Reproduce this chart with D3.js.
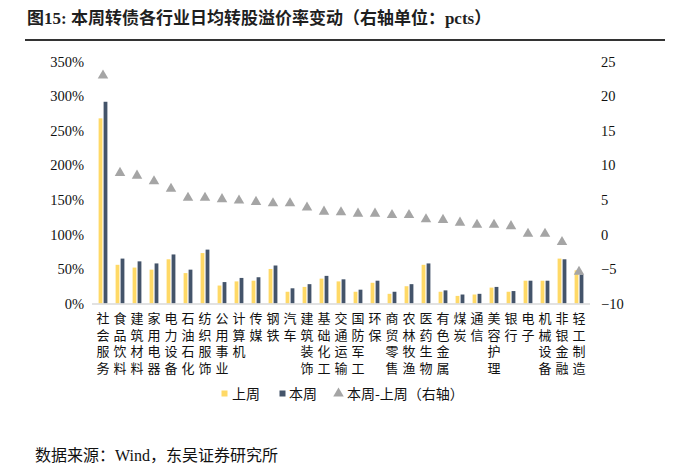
<!DOCTYPE html>
<html>
<head>
<meta charset="utf-8">
<script src="https://cdn.jsdelivr.net/npm/d3@7"></script>
<style>
  body { margin: 0; background: #fff; }
  svg { display: block; }
</style>
</head>
<body>
<div id="chart"></div>
<script>
// industries, sorted by the weekly change
var categories = ["社会服务","食品饮料","建筑材料","家用电器","电力设备","石油石化","纺织服饰","公用事业","计算机","传媒",
  "钢铁","汽车","建筑装饰","基础化工","交通运输","国防军工","环保","商贸零售","农林牧渔","医药生物",
  "有色金属","煤炭","通信","美容护理","银行","电子","机械设备","非银金融","轻工制造"];

// conversion premium, % (left axis)
var lastWeek = [268,56,52,49,64,44,73,26,32,33,50,17,24,36,32,17,30,14,25,56,17,11,13,23,17,33,33,65,48];
var thisWeek = [292,65,61,58,71,49,78,31,37,38,55,22,28,40,35,20,33,17,28,58,19,13,14,24,18,33,33,64,42];

// this week minus last week, pcts (right axis)
var change = [23.0,8.9,8.5,7.7,6.6,5.3,5.3,5.1,4.9,4.7,4.5,4.5,3.9,3.3,3.2,3.0,3.0,2.8,2.8,2.2,
  2.1,1.7,1.4,1.4,1.2,0.1,0.1,-1.1,-5.4];

var leftTicks = [0,50,100,150,200,250,300,350];
var rightTicks = [-10,-5,0,5,10,15,20,25];

var W = 700, H = 473;
var svg = d3.select("#chart").append("svg")
  .attr("width", W).attr("height", H);

var cjk = "'Noto Sans CJK SC', sans-serif";
var serif = "'Liberation Serif', 'Noto Sans CJK SC', serif";

// title
svg.append("text")
  .attr("x", 27).attr("y", 24)
  .style("font-family", serif)
  .style("font-weight", "bold")
  .style("font-size", "17px")
  .attr("fill", "#1f1f1f")
  .text("图15: 本周转债各行业日均转股溢价率变动（右轴单位：pcts）");

svg.append("line")
  .attr("x1", 25).attr("x2", 665)
  .attr("y1", 40).attr("y2", 40)
  .attr("stroke", "#333").attr("stroke-width", 2);

// scales
var x = d3.scaleBand()
  .domain(categories)
  .range([94.5, 587.5]);

var yL = d3.scaleLinear().domain([0, 350]).range([303.5, 61.7]);
var yR = d3.scaleLinear().domain([-10, 25]).range([303.5, 61.7]);

var barW = 3.8;

// left axis labels
var axL = svg.append("g")
  .attr("transform", "translate(84,0)")
  .call(d3.axisLeft(yL).tickValues(leftTicks).tickSize(0).tickPadding(0)
    .tickFormat(function(d) { return d + "%"; }));
axL.select(".domain").remove();
axL.selectAll("text")
  .style("font-family", serif).style("font-size", "14.5px").attr("fill", "#111");

// right axis labels
var axR = svg.append("g")
  .attr("transform", "translate(601,0)")
  .call(d3.axisRight(yR).tickValues(rightTicks).tickSize(0).tickPadding(0));
axR.select(".domain").remove();
axR.selectAll("text")
  .style("font-family", serif).style("font-size", "14.5px").attr("fill", "#111");

// bars
svg.selectAll(".last")
  .data(categories)
  .enter()
  .append("rect")
    .attr("class", "last")
    .attr("x", function(d) { return x(d) + x.bandwidth() / 2 - barW - 0.6; })
    .attr("y", function(d, i) { return yL(lastWeek[i]); })
    .attr("width", barW)
    .attr("height", function(d, i) { return yL(0) - yL(lastWeek[i]); })
    .attr("fill", "#FFD966");

svg.selectAll(".this")
  .data(categories)
  .enter()
  .append("rect")
    .attr("class", "this")
    .attr("x", function(d) { return x(d) + x.bandwidth() / 2 + 0.6; })
    .attr("y", function(d, i) { return yL(thisWeek[i]); })
    .attr("width", barW)
    .attr("height", function(d, i) { return yL(0) - yL(thisWeek[i]); })
    .attr("fill", "#44546A");

// baseline
svg.append("line")
  .attr("x1", 92).attr("x2", 590)
  .attr("y1", yL(0) + 0.5).attr("y2", yL(0) + 0.5)
  .attr("stroke", "#d9d9d9").attr("stroke-width", 1.5);

// triangles (right axis)
var tri = d3.symbol().type(d3.symbolTriangle).size(48);
svg.selectAll(".chg")
  .data(categories)
  .enter()
  .append("path")
    .attr("class", "chg")
    .attr("d", tri)
    .attr("transform", function(d, i) {
      return "translate(" + (x(d) + x.bandwidth() / 2) + "," + yR(change[i]) + ")";
    })
    .attr("fill", "#A5A5A5");

// vertical category labels, one column per industry
svg.selectAll(".cat")
  .data(categories)
  .enter()
  .append("text")
    .attr("class", "cat")
    .attr("x", function(d) { return x(d) + x.bandwidth() / 2; })
    .attr("y", 312)
    .style("writing-mode", "vertical-rl")
    .style("letter-spacing", "3.5px")
    .style("font-family", cjk)
    .style("font-size", "13px")
    .attr("fill", "#111")
    .text(function(d) { return d; });

// legend
var leg = svg.append("g").style("font-family", cjk).style("font-size", "14px");
leg.append("rect").attr("x", 221.5).attr("y", 390.5).attr("width", 6).attr("height", 6).attr("fill", "#FFD966");
leg.append("text").attr("x", 232).attr("y", 398.5).attr("fill", "#111").text("上周");
leg.append("rect").attr("x", 279.5).attr("y", 390.5).attr("width", 6).attr("height", 6).attr("fill", "#44546A");
leg.append("text").attr("x", 289).attr("y", 398.5).attr("fill", "#111").text("本周");
leg.append("path").attr("d", tri).attr("transform", "translate(338.5,393.5)").attr("fill", "#A5A5A5");
leg.append("text").attr("x", 347).attr("y", 398.5).attr("fill", "#111").text("本周-上周（右轴）");

// source
svg.append("text")
  .attr("x", 35).attr("y", 461)
  .style("font-family", serif)
  .style("font-size", "16px")
  .attr("fill", "#111")
  .text("数据来源：Wind，东吴证券研究所");
</script>
</body>
</html>
